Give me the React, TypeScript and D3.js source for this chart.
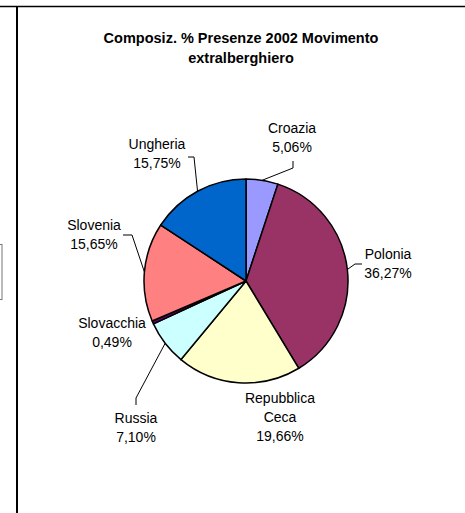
import React, { useEffect, useRef } from 'react';
import * as d3 from 'd3';

const countries = ['Croazia', 'Polonia', 'Repubblica Ceca', 'Russia', 'Slovacchia', 'Slovenia', 'Ungheria'];
const shares = [5.06, 36.27, 19.66, 7.1, 0.49, 15.65, 15.75];
const labelLines = [
  ['Croazia', '5,06%'],
  ['Polonia', '36,27%'],
  ['Repubblica', 'Ceca', '19,66%'],
  ['Russia', '7,10%'],
  ['Slovacchia', '0,49%'],
  ['Slovenia', '15,65%'],
  ['Ungheria', '15,75%'],
];
const sliceColors = ['#9999FF', '#993366', '#FFFFCC', '#CCFFFF', '#660066', '#FF8080', '#0066CC'];

// label placement (text centre x, first baseline y) and leader elbows
const labelPos: [number, number][] = [
  [292, 133], [388, 259], [280, 403], [136, 423], [112, 328], [94, 230], [157, 149],
];
const leaders: ([number, number][] | null)[] = [
  [[293, 161], [293, 168]],
  [[362, 264], [355, 264]],
  null,
  [[136, 405], [136, 398]],
  null,
  [[123, 235], [132, 235]],
  [[188, 157], [194, 157]],
];

const W = 465;
const H = 513;

export default function App() {
  const ref = useRef<SVGSVGElement>(null);

  useEffect(() => {
    if (!ref.current) return;
    const svg = d3.select(ref.current).html('');
    const font = 'Liberation Sans, Arial, sans-serif';

    svg.append('rect').attr('width', W).attr('height', H).attr('fill', '#fff');

    // frame pieces
    svg.append('line').attr('x1', 0).attr('x2', W).attr('y1', 6.5).attr('y2', 6.5)
      .attr('stroke', '#000').attr('stroke-width', 1.5);
    svg.append('line').attr('x1', 17).attr('x2', 17).attr('y1', 6).attr('y2', H)
      .attr('stroke', '#000').attr('stroke-width', 2);
    svg.append('rect').attr('x', -6).attr('y', 244.5).attr('width', 8).attr('height', 55)
      .attr('fill', 'none').attr('stroke', '#777').attr('stroke-width', 1);

    // title
    const title = svg.append('text').attr('text-anchor', 'middle')
      .attr('font-family', font).attr('font-weight', 'bold').attr('font-size', 14.5);
    title.append('tspan').attr('x', 241).attr('y', 43).text('Composiz. % Presenze 2002 Movimento');
    title.append('tspan').attr('x', 241).attr('y', 63).text('extralberghiero');

    const cx = 246, cy = 281, r = 102;
    const g = svg.append('g').attr('transform', `translate(${cx},${cy})`);

    const pie = d3.pie<number>().sort(null).value(d => d);
    const arcs = pie(shares);
    const arc = d3.arc<d3.PieArcDatum<number>>().innerRadius(0).outerRadius(r);

    g.selectAll('path.slice')
      .data(arcs)
      .enter()
      .append('path')
      .attr('class', 'slice')
      .attr('d', arc)
      .attr('fill', (_, i) => sliceColors[i])
      .attr('stroke', '#000')
      .attr('stroke-width', 1.5)
      .attr('stroke-linejoin', 'round');

    // leader lines to slice edge
    arcs.forEach((a, i) => {
      const pts = leaders[i];
      if (!pts) return;
      const mid = (a.startAngle + a.endAngle) / 2;
      const edge: [number, number] = [cx + r * Math.sin(mid), cy - r * Math.cos(mid)];
      svg.append('path')
        .attr('d', d3.line()([...pts, edge]))
        .attr('fill', 'none')
        .attr('stroke', '#000')
        .attr('stroke-width', 1);
    });

    // labels
    labelLines.forEach((lines, i) => {
      const [x, y] = labelPos[i];
      const t = svg.append('text').attr('text-anchor', 'middle')
        .attr('font-family', font).attr('font-size', 14).attr('fill', '#000');
      lines.forEach((s, k) => {
        t.append('tspan').attr('x', x).attr('y', y + k * 19).text(s);
      });
    });
  }, []);

  return (
    <svg
      ref={ref}
      width={W}
      height={H}
      style={{ position: 'absolute', left: 0, top: 0, display: 'block' }}
    />
  );
}
